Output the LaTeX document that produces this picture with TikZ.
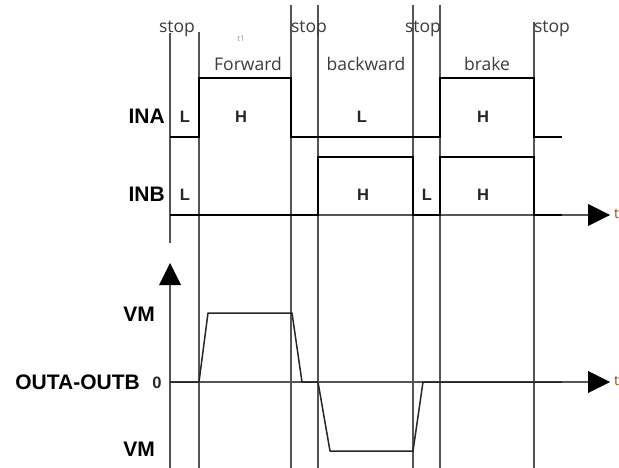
\documentclass[tikz,border=0pt]{standalone}
\usepackage{fontspec}
\setmainfont{Liberation Sans}
\newfontfamily\opensans{Open Sans}
\definecolor{gridc}{HTML}{555555}
\definecolor{txtc}{HTML}{3C3C3C}
\begin{document}
\begin{tikzpicture}[x=1pt,y=-1pt,
  gridline/.style={draw=gridc, line width=1.2pt},
  sig/.style={draw=black, line width=2pt, line join=miter},
  outsig/.style={draw=black!85, line width=1.5pt, line join=round},
  tip/.style={fill=black, draw=none},
  phase/.style={font=\opensans\fontsize{17.5}{17.5}\selectfont, text=txtc, inner sep=0pt},
  lbl/.style={font=\bfseries\fontsize{21}{21}\selectfont, inner sep=0pt},
  lvl/.style={font=\bfseries\fontsize{16.5}{16.5}\selectfont, text=black!85, inner sep=0pt}]
\useasboundingbox (0,0) rectangle (619,468);
\fill[white] (0,0) rectangle (619,468);

% vertical grid lines
\draw[gridline] (170,33) -- (170,243);
\draw[gridline] (199,32) -- (199,468);
\draw[gridline] (291,5) -- (291,468);
\draw[gridline] (318,5) -- (318,468);
\draw[gridline] (413,5) -- (413,468);
\draw[gridline] (440,5) -- (440,468);
\draw[gridline] (534,22) -- (534,468);

% axes
\draw[gridline] (170,468) -- (170,284);
\fill[tip] (159,285) -- (181,285) -- (170,263) -- cycle;
\draw[gridline] (170,215) -- (589,215);
\fill[tip] (588,204) -- (588,226) -- (610,215) -- cycle;
\draw[gridline] (170,382) -- (589,382);
\fill[tip] (588,371) -- (588,393) -- (610,382) -- cycle;
\node[font=\opensans\fontsize{14}{14}\selectfont, text=orange!60!black, anchor=west, inner sep=0pt] (t1lab) at (614,214) {t};
\node[font=\opensans\fontsize{14}{14}\selectfont, text=orange!60!black, anchor=west, inner sep=0pt] (t2lab) at (614,381) {t};

% INA
\draw[sig] (170,137) -- (199,137) -- (199,78) -- (291,78) -- (291,137) -- (440,137) -- (440,78) -- (534,78) -- (534,137) -- (562,137);
% INB
\draw[sig] (170,215) -- (318,215) -- (318,157) -- (413,157) -- (413,215) -- (440,215) -- (440,157) -- (534,157) -- (534,215) -- (562,215);
% OUTA-OUTB
\draw[outsig] (170,382) -- (199,382) -- (208,313) -- (292,313) -- (302,382) -- (318,382) -- (330,451) -- (413,451) -- (423,382) -- (562,382);

% phase labels
\node[phase] (s1) at (177,29) {stop};
\node[phase] (s2) at (309,29) {stop};
\node[phase] (s3) at (423,29) {stop};
\node[phase] (s4) at (552,29) {stop};
\node[phase] (fw) at (248,64) {Forward};
\node[phase] (bw) at (366,64) {backward};
\node[phase] (br) at (487,64) {brake};
\node[font=\opensans\fontsize{8}{8}\selectfont, text=black!40, inner sep=0pt] (tt) at (241,39) {t1};

% signal names
\node[lbl, anchor=east] (ina) at (165,116) {INA};
\node[lbl, anchor=east] (inb) at (165,194) {INB};
\node[lbl, anchor=east] (vm1) at (155,314) {VM};
\node[lbl, anchor=east] (outab) at (140,382) {OUTA-OUTB};
\node[lbl, anchor=east] (vm2) at (155,449) {VM};
\node[lvl] (zero) at (157,383) {0};

% levels
\node[lvl] (a1) at (185,117) {L};
\node[lvl] (a2) at (241,117) {H};
\node[lvl] (a3) at (362,117) {L};
\node[lvl] (a4) at (483,117) {H};
\node[lvl] (b1) at (185,195) {L};
\node[lvl] (b2) at (363,195) {H};
\node[lvl] (b3) at (427,195) {L};
\node[lvl] (b4) at (483,195) {H};
\end{tikzpicture}
\end{document}
